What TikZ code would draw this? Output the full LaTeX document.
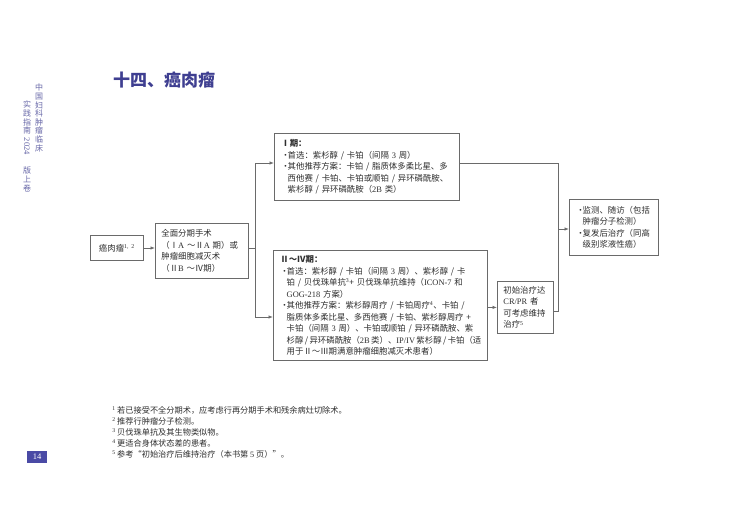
\documentclass[tikz,border=0pt]{standalone}
\usepackage{fontspec}
\setmainfont{Noto Sans CJK SC}
\newfontfamily\latin{Liberation Serif}
\usetikzlibrary{arrows.meta,positioning}
\definecolor{TitleBlue}{HTML}{3F3F91}
\definecolor{SideBlue}{HTML}{6868A8}
\definecolor{PageBlue}{HTML}{4A4AA5}
\definecolor{BoxGray}{HTML}{6A6A6A}
\definecolor{TextGray}{HTML}{2E2E2E}
\newcommand{\bul}{\makebox[0.75em][l]{·}}
\newcommand{\hng}{\hspace*{0.75em}}
\newcommand{\fn}[1]{\textsuperscript{\latin #1}}
\newcommand{\lt}[1]{{\latin #1}}

\begin{document}
\begin{tikzpicture}[x=1pt,y=-1pt,
      every node/.style={font=\fontsize{8.4}{11.5}\selectfont,text=TextGray},
      box/.style={draw=BoxGray,line width=0.8pt,anchor=north west,align=left,
        inner xsep=6pt,inner ysep=3pt},
      link/.style={line width=0.8pt,draw=BoxGray},
      arrow/.style={link,-{Latex[length=4.5pt,width=3.5pt]}},
      side/.style={inner sep=0pt,text=SideBlue,align=center,
        font=\fontsize{8}{8.6}\selectfont},
      note/.style={anchor=base west,inner sep=0pt,font=\fontsize{8.2}{10}\selectfont}]
      \useasboundingbox (0,0) rectangle (730,524);
      \fill[white] (0,0) rectangle (730,524);
      % title and page furniture
      \node[anchor=west,inner sep=0pt,text=TitleBlue,
        font=\fontsize{17}{20}\selectfont\bfseries] (title) at (113,80) {十四、癌肉瘤};
      \node[side,anchor=north] (side1) at (39,84) {中\\国\\妇\\科\\肿\\瘤\\临\\床};
      \node[side,anchor=north] (side2) at (27,101) {实\\践\\指\\南};
      \node[side,rotate=-90,below=3pt of side2,anchor=west,font=\fontsize{8.5}{9}\latin] (year) {2024};
      \node[side,anchor=north] (side3) at (27,167) {版\\上\\卷};
      \node[fill=PageBlue,text=white,inner sep=0pt,minimum width=20pt,minimum height=12pt,
        font=\fontsize{8.5}{9}\latin] (page) at (37,457) {14};
      % flow boxes
      \node[box,align=center,text width=41pt,minimum height=25pt] (onc) at (90,235) {癌肉瘤\fn{1,~2}};
      \node[box,text width=81pt,minimum height=55pt] (surg) at (155,223)
        {全面分期手术\\（Ⅰ\lt{A}~～Ⅱ\lt{A}~期）或\\肿瘤细胞减灭术\\（Ⅱ\lt{B}~～Ⅳ期）};
      \node[box,inner xsep=7pt,text width=171pt,minimum height=67pt] (s1) at (274,133)
        {\textbf{Ⅰ期：}\\
         \bul 首选：紫杉醇~/~卡铂（间隔~\lt{3}~周）\\
         \bul 其他推荐方案：卡铂~/~脂质体多柔比星、多\\
         \hng 西他赛~/~卡铂、卡铂或顺铂~/~异环磷酰胺、\\
         \hng 紫杉醇~/~异环磷酰胺（\lt{2B}~类）};
      \node[box,inner xsep=7pt,text width=200pt,minimum height=110pt] (s24) at (273,250)
        {\textbf{Ⅱ～Ⅳ期：}\\
         \bul 首选：紫杉醇~/~卡铂（间隔~\lt{3}~周）、紫杉醇~/~卡\\
         \hng 铂~/~贝伐珠单抗\fn{3}+~贝伐珠单抗维持（\lt{ICON-7}~和\\
         \hng \lt{GOG-218}~方案）\\
         \bul 其他推荐方案：紫杉醇周疗~/~卡铂周疗\fn{4}、卡铂~/\\
         \hng 脂质体多柔比星、多西他赛~/~卡铂、紫杉醇周疗~+\\
         \hng 卡铂（间隔~\lt{3}~周）、卡铂或顺铂~/~异环磷酰胺、紫\\
         \hng 杉醇\,/\,异环磷酰胺（\lt{2B}\,类）、\lt{IP/IV}\,紫杉醇\,/\,卡铂（适\\
         \hng 用于Ⅱ～Ⅲ期满意肿瘤细胞减灭术患者）};
      \node[box,text width=44pt,minimum height=52pt] (init) at (497,281)
        {初始治疗达\\\lt{CR/PR}~者\\可考虑维持\\治疗\fn{5}};
      \node[box,inner xsep=7pt,text width=75pt,minimum height=56pt] (fu) at (569,199)
        {\bul 监测、随访（包括\\\hng 肿瘤分子检测）\\\bul 复发后治疗（同高\\\hng 级别浆液性癌）};
      % connectors
      \coordinate (busL) at (255,248);
      \coordinate (busLtop) at (255,163);
      \coordinate (busLbot) at (255,317);
      \coordinate (busR) at (558,229);
      \coordinate (busRtop) at (558,163);
      \coordinate (busRbot) at (558,311);
      \draw[arrow] (onc.east |- busL) -- (surg.west |- busL);
      \draw[link] (surg.east |- busL) -- (busL);
      \draw[link] (busLtop) -- (busLbot);
      \draw[arrow] (busLtop) -- (s1.west |- busLtop);
      \draw[arrow] (busLbot) -- (s24.west |- busLbot);
      \draw[arrow] (s24.east |- init.west) -- (init.west);
      \draw[link] (s1.east |- busRtop) -- (busRtop) -- (busRbot) -- (init.east |- busRbot);
      \draw[arrow] (busR) -- (fu.west |- busR);
      % footnotes
      \foreach \n/\txt in {1/若已接受不全分期术，应考虑行再分期手术和残余病灶切除术。,
          2/推荐行肿瘤分子检测。,3/贝伐珠单抗及其生物类似物。,4/更适合身体状态差的患者。,
          5/参考“初始治疗后维持治疗（本书第~\lt{5}~页）”。}
        \node[note] (fn\n) at (117,{402+11*\n}) {\llap{\fn{\n}\,}\txt};
    \end{tikzpicture}
\end{document}
